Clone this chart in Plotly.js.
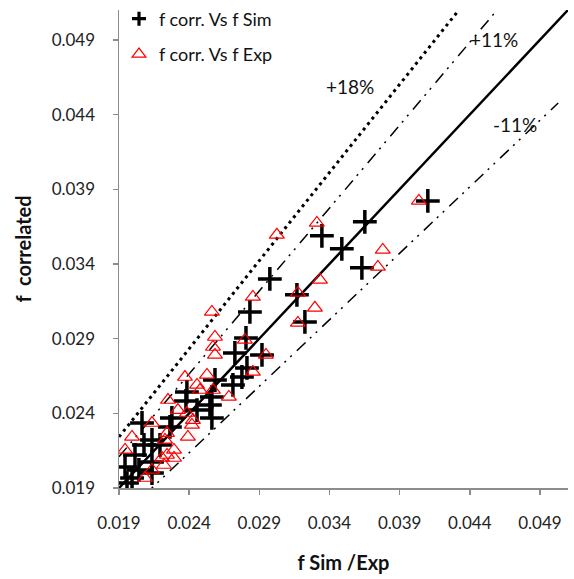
<!DOCTYPE html>
<html>
<head>
<meta charset="utf-8">
<script src="https://cdn.plot.ly/plotly-3.0.1.min.js"></script>
<style>html,body{margin:0;padding:0;background:#fff;}#chart{width:574px;height:579px;}</style>
</head>
<body>
<div id="chart"></div>
<script>
// f corr. Vs f Sim (black crosses)
var simX = [0.04101,0.03652,0.03488,0.03346,0.03631,0.03168,0.02975,0.03225,0.02833,0.02805,
            0.02726,0.02919,0.02812,0.02776,0.02712,0.02584,0.02384,0.02562,0.02548,0.02562,
            0.02377,0.02456,0.02277,0.02263,0.02064,0.02135,0.02078,0.02192,0.02014,0.02135,
            0.01943,0.02042,0.02135,0.01993,0.01957];
var simY = [0.03822,0.03682,0.03501,0.03588,0.03374,0.03193,0.03300,0.03012,0.03079,0.02905,
            0.02804,0.02791,0.02704,0.02643,0.02590,0.02623,0.02543,0.02510,0.02456,0.02369,
            0.02483,0.02422,0.02369,0.02309,0.02335,0.02222,0.02188,0.02188,0.02121,0.02074,
            0.02041,0.02021,0.02000,0.01967,0.01933];
// f corr. Vs f Exp (red triangles)
var expX = [0.04037,0.03780,0.03745,0.03310,0.03025,0.03332,0.03175,0.03296,0.03175,0.02854,
            0.02562,0.02584,0.02570,0.02584,0.02797,0.02947,0.02854,0.02683,0.02570,0.02527,
            0.02456,0.02370,0.02477,0.02249,0.02320,0.02427,0.02420,0.02135,0.02242,0.02391,
            0.02384,0.01993,0.01943,0.02228,0.02292,0.02242,0.02206,0.02292,0.02220,0.02135,
            0.02085];
var expY = [0.03822,0.03494,0.03380,0.03675,0.03595,0.03293,0.03206,0.03106,0.03005,0.03179,
            0.03079,0.02911,0.02844,0.02791,0.02891,0.02791,0.02677,0.02510,0.02556,0.02657,
            0.02590,0.02643,0.02556,0.02489,0.02422,0.02355,0.02322,0.02335,0.02268,0.02242,
            0.02402,0.02242,0.02155,0.02222,0.02155,0.02121,0.02101,0.02101,0.02054,0.02021,
            0.01967];
// reference lines (end points)
var parityX = [0.019, 0.051],   parityY = [0.019, 0.051];
var plus11X = [0.019, 0.04595], plus11Y = [0.02109, 0.05100];
var minus11X = [0.019, 0.0503], minus11Y = [0.01691, 0.04477];
var plus18X = [0.019, 0.04322], plus18Y = [0.02242, 0.05100];
var tickVals = [0.019, 0.024, 0.029, 0.034, 0.039, 0.044, 0.049];
var tickText = ['0.019','0.024','0.029','0.034','0.039','0.044','0.049'];
var lineLabels = ['+18%', '+11%', '-11%'];
var labelX = [0.03545, 0.04570, 0.04725];
var labelY = [0.04586, 0.04905, 0.04335];

var FONT = 'Lato, "Open Sans", sans-serif';
var traces = [
  {x: plus18X, y: plus18Y, mode: 'lines', showlegend: false, hoverinfo: 'skip',
   line: {color: '#000', width: 3, dash: '3px,4px'}},
  {x: plus11X, y: plus11Y, mode: 'lines', showlegend: false, hoverinfo: 'skip',
   line: {color: '#000', width: 1.5, dash: '12px,6px,2px,6px,2px,7px'}},
  {x: minus11X, y: minus11Y, mode: 'lines', showlegend: false, hoverinfo: 'skip',
   line: {color: '#000', width: 1.5, dash: '12px,6px,2px,6px,2px,7px'}},
  {x: parityX, y: parityY, mode: 'lines', showlegend: false, hoverinfo: 'skip',
   line: {color: '#000', width: 2.5}},
  {x: simX, y: simY, mode: 'markers', name: 'f corr. Vs f Sim', showlegend: false,
   marker: {symbol: 'cross-thin-open', size: 17, color: '#000', line: {color: '#000', width: 3.5}}},
  {x: expX, y: expY, mode: 'markers', name: 'f corr. Vs f Exp', showlegend: false,
   marker: {symbol: 'triangle-up-open', size: 13, color: '#ff0000', line: {color: '#ff0000', width: 1.2}}},
  // legend-only entries (no data points)
  {x: [null], y: [null], mode: 'markers', name: 'f corr. Vs f Sim', legendgroup: 'a',
   marker: {symbol: 'cross-thin-open', size: 10, color: '#000', line: {color: '#000', width: 3.2}}},
  {x: [null], y: [null], mode: 'markers', name: 'f corr. Vs f Exp', legendgroup: 'b',
   marker: {symbol: 'triangle-up-open', size: 12, color: '#ff0000', line: {color: '#ff0000', width: 1.2}}}
];

var annotations = lineLabels.map(function (t, i) {
  return {x: labelX[i], y: labelY[i], xref: 'x', yref: 'y', text: t, showarrow: false,
          font: {family: FONT, size: 19, color: '#111'}};
});

var axisCommon = {
  showgrid: false, zeroline: false, showline: true, linecolor: '#8c8c8c', linewidth: 1.5,
  ticks: 'outside', ticklen: 5, tickcolor: '#8c8c8c', tickwidth: 1.5,
  tickvals: tickVals, ticktext: tickText,
  tickfont: {family: FONT, size: 17, color: '#222'}
};

var layout = {
  width: 574, height: 579,
  margin: {l: 119, r: 6, t: 10, b: 91, autoexpand: false},
  paper_bgcolor: '#fff', plot_bgcolor: '#fff',
  showlegend: true,
  legend: {x: 0.0, y: 1.02, xanchor: 'left', yanchor: 'top', bgcolor: 'rgba(255,255,255,0)',
           font: {family: FONT, size: 18, color: '#111'}, tracegroupgap: 9},
  xaxis: Object.assign({}, axisCommon, {range: [0.019, 0.051], ticklabelstandoff: 14, automargin: false,
          title: {text: 'f Sim /Exp', font: {family: FONT, size: 20, color: '#111', weight: 'bold'}, standoff: 24}}),
  yaxis: Object.assign({}, axisCommon, {range: [0.019, 0.051], ticklabelstandoff: 14, automargin: false,
          title: {text: 'f  correlated', font: {family: FONT, size: 20, color: '#111', weight: 'bold'}, standoff: 14}}),
  annotations: annotations
};

Plotly.newPlot('chart', traces, layout, {staticPlot: true, displayModeBar: false});
</script>
</body>
</html>
